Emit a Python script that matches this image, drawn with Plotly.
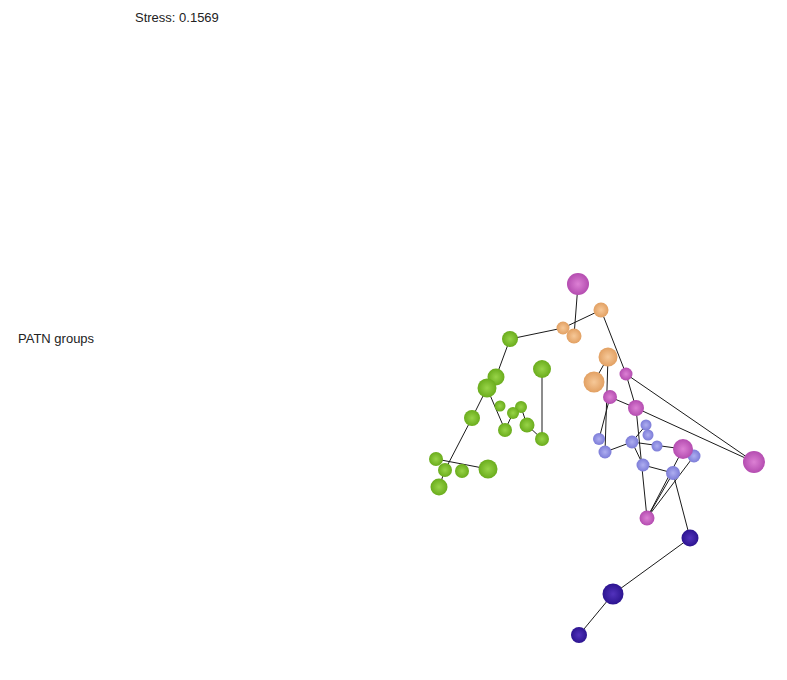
import plotly.graph_objects as go

# MDS ordination coordinates (two dimensions) for each site
node_x = [-0.22, 0.01, -0.37, -0.26, -0.90, -0.58, -1.04, -1.13, 0.08, -0.06,
          0.26, 0.10, -1.00, -0.79, -0.87, -1.28, -0.73, -0.95, -0.58, -0.01,
          0.05, -1.64, -1.55, -1.38, -1.12, -1.61, 0.36, 0.46, 0.48, 0.32,
          0.57, 0.83, 0.94, 1.54, 0.43, 0.73, 0.47, 0.90, 0.13, -0.21]
node_y = [2.16, 1.90, 1.72, 1.64, 1.61, 1.31, 1.23, 1.12, 1.43, 1.18,
          1.26, 1.03, 0.94, 0.93, 0.87, 0.82, 0.75, 0.70, 0.61, 0.61,
          0.48, 0.41, 0.30, 0.29, 0.31, 0.13, 0.92, 0.75, 0.65, 0.58,
          0.54, 0.51, 0.44, 0.38, 0.35, 0.27, -0.18, -0.38, -0.94, -1.35]
# PATN group of each site
node_group = ["D", "C", "C", "C", "A", "A", "A", "A", "C", "C",
              "D", "D", "A", "A", "A", "A", "A", "A", "A", "B",
              "B", "A", "A", "A", "A", "A", "D", "B", "B", "B",
              "B", "D", "B", "D", "B", "B", "D", "E", "E", "E"]
# third-dimension depth, shown as sphere size
node_depth = [22, 15, 13, 15, 16, 18, 17, 19, 19, 21,
              13, 14, 11, 12, 12, 16, 15, 14, 14, 12,
              13, 14, 14, 14, 19, 17, 16, 11, 11, 13,
              11, 20, 13, 22, 13, 14, 15, 17, 21, 16]

# minimum spanning tree links between sites
edges = [(0, 3), (4, 2), (2, 1), (1, 10), (8, 9), (8, 20), (11, 19), (11, 26),
         (10, 26), (10, 33), (26, 33), (26, 36), (20, 29), (29, 31), (29, 27),
         (29, 34), (34, 35), (35, 37), (36, 31), (36, 32), (36, 35), (37, 38),
         (38, 39), (4, 6), (6, 7), (7, 15), (15, 22), (21, 24), (22, 25),
         (7, 17), (14, 17), (14, 13), (13, 16), (16, 18), (5, 18)]

stress = 0.1569

# sphere shading: edge colour and highlight colour per group
group_colors = {
    "A": ("#6aac1c", "#98d448"),
    "B": ("#7c7cd8", "#aeaef0"),
    "C": ("#e2a062", "#f6c898"),
    "D": ("#b44cb0", "#dc80d4"),
    "E": ("#2c1490", "#5232bc"),
}

fig = go.Figure()

ex, ey = [], []
for a, b in edges:
    ex += [node_x[a], node_x[b], None]
    ey += [node_y[a], node_y[b], None]
fig.add_trace(go.Scatter(x=ex, y=ey, mode="lines",
                         line=dict(color="#1a1a1a", width=1),
                         hoverinfo="skip", showlegend=False))

for g, (edge_c, hi_c) in group_colors.items():
    idx = [i for i, gg in enumerate(node_group) if gg == g]
    fig.add_trace(go.Scatter(
        x=[node_x[i] for i in idx], y=[node_y[i] for i in idx],
        mode="markers", name=g, showlegend=False,
        marker=dict(size=[node_depth[i] for i in idx], color=edge_c,
                    gradient=dict(type="radial", color=hi_c),
                    line=dict(width=0), opacity=1),
    ))

fig.add_annotation(text=f"Stress: {stress:.4f}", xref="paper", yref="paper",
                   x=133 / 787, y=1 - 17 / 680, xanchor="left", yanchor="middle",
                   showarrow=False, font=dict(family="Liberation Sans, Arial", size=13, color="#222"))
fig.add_annotation(text="PATN groups", xref="paper", yref="paper",
                   x=16 / 787, y=1 - 338 / 680, xanchor="left", yanchor="middle",
                   showarrow=False, font=dict(family="Liberation Sans, Arial", size=13, color="#222"))

fig.update_layout(
    width=787, height=680,
    margin=dict(l=0, r=0, t=0, b=0),
    paper_bgcolor="white", plot_bgcolor="white",
    xaxis=dict(range=[-6.0, 1.87], visible=False, fixedrange=True),
    yaxis=dict(range=[-1.8, 5.0], visible=False, fixedrange=True),
)

fig.write_html("out.html")
